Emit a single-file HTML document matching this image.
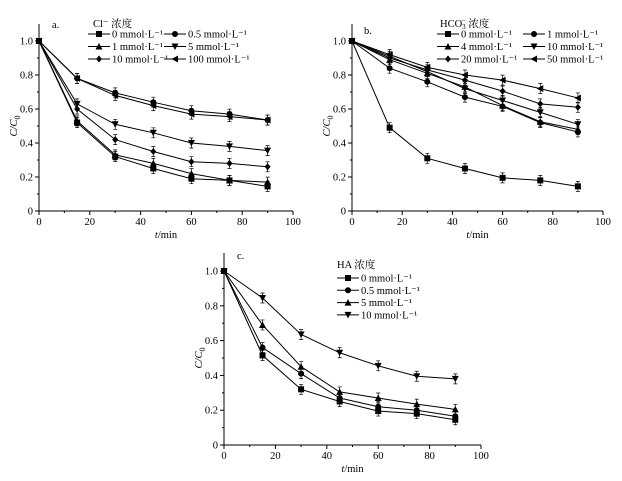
<!DOCTYPE html>
<html><head><meta charset="utf-8"><style>
body{margin:0;background:#fff;}
svg{display:block;font-family:"Liberation Serif","Noto Serif CJK SC",serif;}
</style></head><body>
<svg id="s" width="622" height="481" viewBox="0 0 622 481"></svg>
<script>
const times=[0,15,30,45,60,75,90];
const xTicks=[0,20,40,60,80,100];
const yTicks=[0,0.2,0.4,0.6,0.8,1.0];
const aLabels=['0 mmol·L⁻¹','0.5 mmol·L⁻¹','1 mmol·L⁻¹','5 mmol·L⁻¹','10 mmol·L⁻¹','100 mmol·L⁻¹'];
const a0=[1,0.52,0.32,0.25,0.19,0.18,0.145];
const a05=[1,0.78,0.695,0.64,0.59,0.57,0.535];
const a1=[1,0.53,0.33,0.28,0.22,0.18,0.17];
const a5=[1,0.63,0.51,0.46,0.40,0.38,0.355];
const a10=[1,0.60,0.42,0.35,0.29,0.28,0.26];
const a100=[1,0.78,0.68,0.62,0.57,0.555,0.535];
const bLabels=['0 mmol·L⁻¹','1 mmol·L⁻¹','4 mmol·L⁻¹','10 mmol·L⁻¹','20 mmol·L⁻¹','50 mmol·L⁻¹'];
const b0=[1,0.49,0.31,0.25,0.195,0.18,0.145];
const b1=[1,0.84,0.76,0.67,0.615,0.52,0.465];
const b4=[1,0.89,0.81,0.73,0.62,0.525,0.48];
const b10=[1,0.91,0.82,0.72,0.65,0.58,0.51];
const b20=[1,0.90,0.83,0.77,0.705,0.63,0.61];
const b50=[1,0.92,0.845,0.80,0.77,0.72,0.665];
const cLabels=['0 mmol·L⁻¹','0.5 mmol·L⁻¹','5 mmol·L⁻¹','10 mmol·L⁻¹'];
const c0=[1,0.515,0.32,0.25,0.195,0.18,0.145];
const c05=[1,0.56,0.41,0.27,0.22,0.20,0.165];
const c5=[1,0.69,0.45,0.305,0.27,0.235,0.205];
const c10=[1,0.845,0.635,0.53,0.455,0.395,0.38];
const markers=['square','circle','up','down','diamond','left'];
const S=document.getElementById('s');const NS='http://www.w3.org/2000/svg';
function el(t,a,p){const e=document.createElementNS(NS,t);for(const k in a)e.setAttribute(k,a[k]);(p||S).appendChild(e);return e;}
function marker(g,m,x,y){const r=3;let e;
 if(m==='square')e=el('rect',{x:x-r,y:y-r,width:2*r,height:2*r,fill:'#000'},g);
 else if(m==='circle')e=el('circle',{cx:x,cy:y,r:r,fill:'#000'},g);
 else{let p;if(m==='up')p=[[x,y-r-0.5],[x-r-0.5,y+r],[x+r+0.5,y+r]];
 else if(m==='down')p=[[x,y+r+0.5],[x-r-0.5,y-r],[x+r+0.5,y-r]];
 else if(m==='diamond')p=[[x,y-r-0.5],[x+r,y],[x,y+r+0.5],[x-r,y]];
 else p=[[x-r-0.5,y],[x+r,y-r-0.5],[x+r,y+r+0.5]];
 e=el('polygon',{points:p.map(q=>q.join(',')).join(' '),fill:'#000'},g);}
 return e;}
function panel(P){
 const g=el('g',{});
 const X=v=>P.x0+(P.x1-P.x0)*v/100, Y=v=>P.y0+(P.y1-P.y0)*v;
 const ax=el('path',{d:`M${P.x0},${P.top}V${P.y0}H${X(100)}`,stroke:'#000',fill:'none','stroke-width':1},g);
 
 for(let v=0;v<=100;v+=10){const x=X(v);el('line',{x1:x,x2:x,y1:P.y0,y2:P.y0+(v%20?2:4),stroke:'#000'},g);}
 xTicks.forEach(v=>{const t=el('text',{x:X(v),y:P.y0+14,'text-anchor':'middle','font-size':10.5},g);t.textContent=v;
  });
 for(let i=0;i<=10;i++){const y=Y(i/10);el('line',{x1:P.x0,x2:P.x0-(i%2?2:4),y1:y,y2:y,stroke:'#000'},g);}
 yTicks.forEach(v=>{const t=el('text',{x:P.x0-6,y:Y(v)+3.5,'text-anchor':'end','font-size':10.5},g);t.textContent=v===0?'0':v.toFixed(1);
  });
 const yl=el('text',{x:0,y:0,'font-size':10.5,'font-style':'italic',transform:`translate(${P.x0-22},${Y(0.5)}) rotate(-90)`,'text-anchor':'middle'},g);
 yl.innerHTML='C/C<tspan font-style="normal" dy="3" font-size="8">0</tspan>';
 
 const xl=el('text',{x:X(50),y:P.y0+27,'text-anchor':'middle','font-size':10.5},g);
 xl.innerHTML='<tspan font-style="italic">t</tspan>/min';
 const pl=el('text',{x:P.lx,y:P.ly,'font-size':10.5},g);pl.textContent=P.label;
 P.series.forEach((d,i)=>{const sg=el('g',{},g);
  el('polyline',{points:times.map((t,j)=>X(t)+','+Y(d[j])).join(' '),fill:'none',stroke:'#000','stroke-width':1},sg);
  times.forEach((t,j)=>{const m=marker(sg,markers[i],X(t),Y(d[j]));
   if(j>0){const x=X(t),y=Y(d[j]);el('path',{d:`M${x},${y-5}V${y+5}M${x-2},${y-5}H${x+2}M${x-2},${y+5}H${x+2}`,stroke:'#000','stroke-width':0.7,fill:'none'},sg);}});});
 const tt=el('text',{x:P.tx,y:P.ty,'font-size':10.5},g);tt.innerHTML=P.title;
 P.labels.forEach((lab,i)=>{const lg=el('g',{},g);
  const c=P.cols>1?i%2:0,r=P.cols>1?Math.floor(i/2):i;const lx=P.lcx[c],ly=P.lry+r*P.lrh;
  el('line',{x1:lx,x2:lx+22,y1:ly,y2:ly,stroke:'#000'},lg);marker(lg,markers[i],lx+11,ly);
  const t=el('text',{x:lx+24,y:ly+3.5,'font-size':10.5},lg);t.textContent=lab;});
}
panel({name:'panel-a-chloride',x0:39,x1:293,y0:211,y1:41,top:24,label:'a.',lx:52,ly:28,series:[a0,a05,a1,a5,a10,a100],labels:aLabels,
 title:'Cl⁻ 浓度',tx:93,ty:27,cols:2,lcx:[88,164],lry:34,lrh:12.5});
panel({name:'panel-b-bicarbonate',x0:352,x1:603,y0:211,y1:41,top:24,label:'b.',lx:364,ly:34,series:[b0,b1,b4,b10,b20,b50],labels:bLabels,
 title:'HCO<tspan font-size="7" dy="2">3</tspan><tspan font-size="7" dy="-6" dx="-4">−</tspan><tspan dy="4"> 浓度</tspan>',tx:440,ty:27,cols:2,lcx:[437,523],lry:34,lrh:12.5});
panel({name:'panel-c-humic-acid',x0:224,x1:481,y0:445,y1:271,top:253,label:'c.',lx:237,ly:259,series:[c0,c05,c5,c10],labels:cLabels,
 title:'HA 浓度',tx:337,ty:268,cols:1,lcx:[337],lry:278,lrh:12.3});
</script>
</body></html>
